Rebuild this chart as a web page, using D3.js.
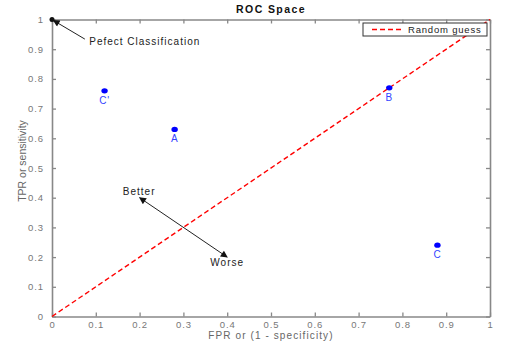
<!DOCTYPE html>
<meta charset="utf-8">
<html>
<head>
<title>ROC Space</title>
<script src="https://d3js.org/d3.v7.min.js"></script>
<style>
  body { margin: 0; background: #fff; font-family: "Liberation Sans", Arial, sans-serif; }
  .tick text { fill: #777; font-size: 9.5px; letter-spacing: 0.9px; }
</style>
</head>
<body>
<script>
// data
var pointNames = ["C'", "A", "B", "C"];
var fprValues = [0.12, 0.28, 0.77, 0.88];
var tprValues = [0.76, 0.63, 0.77, 0.24];
var tickValues = [0, 0.1, 0.2, 0.3, 0.4, 0.5, 0.6, 0.7, 0.8, 0.9, 1];
var guessLine = [[0, 0], [1, 1]];

var width = 514, height = 351;
var plotLeft = 52, plotRight = 490, plotTop = 19.5, plotBottom = 316.5;

var svg = d3.select("body").append("svg")
  .attr("width", width).attr("height", height);

var x = d3.scaleLinear().domain([0, 1]).range([plotLeft, plotRight]);
var y = d3.scaleLinear().domain([0, 1]).range([plotBottom, plotTop]);

var fmt = function(d) { return d === 0 ? "0" : d === 1 ? "1" : d3.format(".1f")(d); };

// arrow heads
var defs = svg.append("defs");
defs.append("marker")
  .attr("id", "head")
  .attr("viewBox", "0 0 10 10")
  .attr("refX", 9).attr("refY", 5)
  .attr("markerWidth", 9).attr("markerHeight", 7)
  .attr("markerUnits", "userSpaceOnUse")
  .attr("orient", "auto-start-reverse")
  .append("path").attr("d", "M0,0 L10,5 L0,10 Z").attr("fill", "#111");

// axes with inward ticks on all four sides
function styleAxis(g) {
  g.select(".domain").attr("stroke", "#888").attr("stroke-width", 1.6);
  g.selectAll(".tick line").attr("stroke", "#888").attr("stroke-width", 1.3);
}

svg.append("g").attr("transform", "translate(0," + plotBottom + ")")
  .call(d3.axisBottom(x).tickValues(tickValues).tickFormat(fmt).tickSizeInner(-4).tickSizeOuter(0).tickPadding(5))
  .call(styleAxis);
svg.append("g").attr("transform", "translate(0," + plotTop + ")")
  .call(d3.axisTop(x).tickValues(tickValues).tickFormat("").tickSizeInner(-4).tickSizeOuter(0))
  .call(styleAxis);
svg.append("g").attr("transform", "translate(" + plotLeft + ",0)")
  .call(d3.axisLeft(y).tickValues(tickValues).tickFormat(fmt).tickSizeInner(-4).tickSizeOuter(0).tickPadding(8))
  .call(styleAxis);
svg.append("g").attr("transform", "translate(" + plotRight + ",0)")
  .call(d3.axisRight(y).tickValues(tickValues).tickFormat("").tickSizeInner(-4).tickSizeOuter(0))
  .call(styleAxis);

svg.selectAll(".tick text").attr("font-family", "Liberation Sans, Arial, sans-serif");

// title and axis labels
svg.append("text")
  .attr("x", 271).attr("y", 13)
  .attr("text-anchor", "middle")
  .style("font-size", "10.5px").style("font-weight", "bold").style("fill", "#111")
  .style("letter-spacing", "1.4px")
  .text("ROC Space");

svg.append("text")
  .attr("x", 271).attr("y", 339)
  .attr("text-anchor", "middle")
  .style("font-size", "10px").style("fill", "#666")
  .style("letter-spacing", "1.1px")
  .text("FPR or (1 - specificity)");

svg.append("text")
  .attr("transform", "translate(26,161) rotate(-90)")
  .attr("text-anchor", "middle")
  .style("font-size", "10.5px").style("fill", "#666")
  .text("TPR or sensitivity");

// random guess line
svg.append("path")
  .datum(guessLine)
  .attr("d", d3.line().x(function(d) { return x(d[0]); }).y(function(d) { return y(d[1]); }))
  .attr("fill", "none")
  .attr("stroke", "#f00")
  .attr("stroke-width", 1.4)
  .attr("stroke-dasharray", "5,3");

// points
var pts = fprValues.map(function(f, i) { return { name: pointNames[i], fpr: f, tpr: tprValues[i] }; });

svg.selectAll("ellipse.pt")
  .data(pts).enter().append("ellipse")
  .attr("class", "pt")
  .attr("cx", function(d) { return x(d.fpr); })
  .attr("cy", function(d) { return y(d.tpr); })
  .attr("rx", 3.2).attr("ry", 2.6)
  .attr("fill", "#0000ff");

svg.selectAll("text.lbl")
  .data(pts).enter().append("text")
  .attr("class", "lbl")
  .attr("x", function(d) { return x(d.fpr); })
  .attr("y", function(d) { return y(d.tpr) + 13; })
  .attr("text-anchor", "middle")
  .style("font-size", "10px").style("fill", "#3344ff")
  .style("letter-spacing", "0.8px")
  .text(function(d) { return d.name; });

// annotations
function arrow(x1, y1, x2, y2, both) {
  svg.append("line")
    .attr("x1", x(x1)).attr("y1", y(y1)).attr("x2", x(x2)).attr("y2", y(y2))
    .attr("stroke", "#222").attr("stroke-width", 1)
    .attr("marker-end", "url(#head)")
    .attr("marker-start", both ? "url(#head)" : null);
}
arrow(0.075, 0.934, 0.003, 0.997, false);
arrow(0.2, 0.4, 0.4, 0.2, true);

// dot at perfect classification
svg.append("circle").attr("cx", x(0)).attr("cy", y(1)).attr("r", 2.5).attr("fill", "#111");

function note(t, xv, yv, anchor) {
  svg.append("text")
    .attr("x", x(xv)).attr("y", y(yv))
    .attr("text-anchor", anchor)
    .style("font-size", "10px").style("fill", "#222")
    .style("letter-spacing", "1px")
    .text(t);
}
note("Pefect Classification", 0.085, 0.913, "start");
note("Better", 0.199, 0.41, "middle");
note("Worse", 0.4, 0.17, "middle");

// legend
var leg = svg.append("g");
leg.append("rect")
  .attr("x", 363).attr("y", 23).attr("width", 124).attr("height", 13)
  .attr("fill", "#fff").attr("stroke", "#333").attr("stroke-width", 1);
leg.append("line")
  .attr("x1", 372).attr("x2", 404).attr("y1", 29.5).attr("y2", 29.5)
  .attr("stroke", "#f00").attr("stroke-width", 1.4).attr("stroke-dasharray", "5,3");
leg.append("text")
  .attr("x", 408).attr("y", 33)
  .style("font-size", "9.5px").style("fill", "#222")
  .style("letter-spacing", "0.8px")
  .text("Random guess");
</script>
</body>
</html>
